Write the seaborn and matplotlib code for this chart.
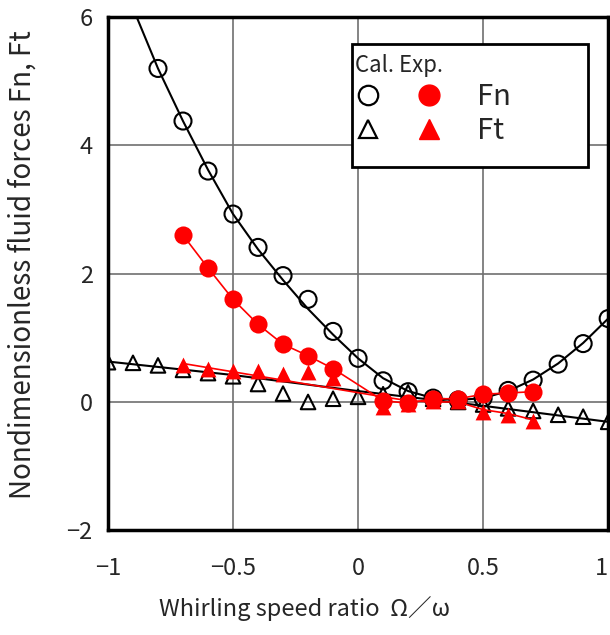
import matplotlib
matplotlib.use("Agg")
import matplotlib.pyplot as plt
import seaborn as sns
from matplotlib.lines import Line2D
from matplotlib.patches import Rectangle
from matplotlib.legend_handler import HandlerTuple

# Calculated Fn (open circles) and its curve
cal_fn_x = [-0.8, -0.7, -0.6, -0.5, -0.4, -0.3, -0.2, -0.1, 0.0, 0.1,
            0.2, 0.3, 0.4, 0.5, 0.6, 0.7, 0.8, 0.9, 1.0]
cal_fn_y = [5.2, 4.38, 3.6, 2.93, 2.41, 1.97, 1.6, 1.1, 0.68, 0.33,
            0.16, 0.06, 0.03, 0.06, 0.18, 0.34, 0.59, 0.91, 1.3]
cal_fn_line_x = [-0.885, -0.8, -0.7, -0.6, -0.5, -0.4, -0.3, -0.2, -0.1, 0.0,
                 0.1, 0.2, 0.3, 0.4, 0.5, 0.6, 0.7, 0.8, 0.9, 1.0]
cal_fn_line_y = [6.0, 5.2, 4.38, 3.62, 2.93, 2.38, 1.9, 1.45, 1.05, 0.68,
                 0.37, 0.17, 0.06, 0.03, 0.06, 0.17, 0.35, 0.6, 0.92, 1.3]

# Calculated Ft (open triangles) and its curve
cal_ft_x = [-1.0, -0.9, -0.8, -0.7, -0.6, -0.5, -0.4, -0.3, -0.2, -0.1, 0.0,
            0.1, 0.2, 0.3, 0.4, 0.5, 0.6, 0.7, 0.8, 0.9, 1.0]
cal_ft_y = [0.62, 0.61, 0.57, 0.5, 0.45, 0.4, 0.28, 0.13, 0.0, 0.05, 0.08,
            0.12, 0.15, 0.05, 0.0, -0.04, -0.1, -0.14, -0.2, -0.23, -0.31]
cal_ft_line_x = [-1.0, -0.5, 0.0, 0.5, 1.0]
cal_ft_line_y = [0.63, 0.42, 0.17, -0.06, -0.31]

# Experiment (red)
exp_x = [-0.7, -0.6, -0.5, -0.4, -0.3, -0.2, -0.1,
         0.1, 0.2, 0.3, 0.4, 0.5, 0.6, 0.7]
exp_fn_y = [2.6, 2.09, 1.6, 1.21, 0.9, 0.72, 0.52,
            0.02, -0.02, 0.05, 0.05, 0.12, 0.14, 0.16]
exp_ft_y = [0.58, 0.52, 0.48, 0.48, 0.44, 0.46, 0.37,
            -0.08, -0.03, 0.02, 0.02, -0.16, -0.2, -0.3]
exp_ft_line_x = [-0.7, 0.1, 0.2, 0.3, 0.4, 0.5, 0.6, 0.7]
exp_ft_line_y = [0.6, 0.08, 0.02, 0.0, 0.0, -0.12, -0.18, -0.28]

x_ticks = [-1, -0.5, 0, 0.5, 1]
x_labels = ["\u22121", "\u22120.5", "0", "0.5", "1"]
y_ticks = [-2, 0, 2, 4, 6]
y_labels = ["\u22122", "0", "2", "4", "6"]
legend_labels = ["Fn", "Ft"]

RED = "#ff0000"

sns.set_style("white")
plt.rcParams["font.family"] = ["Noto Sans CJK JP", "DejaVu Sans"]

fig = plt.figure(figsize=(6.1, 6.35), dpi=100)
ax = fig.add_axes([0.177, 0.165, 0.820, 0.808])

# calculated curves
sns.lineplot(x=cal_fn_line_x, y=cal_fn_line_y, ax=ax, color="black", lw=1.5, sort=False, zorder=3)
sns.lineplot(x=cal_ft_line_x, y=cal_ft_line_y, ax=ax, color="black", lw=1.5, sort=False, zorder=3)
sns.scatterplot(x=cal_fn_x, y=cal_fn_y, ax=ax, marker="o", s=150,
                facecolor="none", edgecolor="black", linewidth=1.5, zorder=4)
sns.scatterplot(x=cal_ft_x, y=cal_ft_y, ax=ax, marker="^", s=110,
                facecolor="none", edgecolor="black", linewidth=1.5, zorder=4)

# experimental
sns.lineplot(x=exp_x, y=exp_fn_y, ax=ax, color=RED, lw=1.2, sort=False, zorder=5)
sns.lineplot(x=exp_ft_line_x, y=exp_ft_line_y, ax=ax, color=RED, lw=1.2, sort=False, zorder=5)
sns.scatterplot(x=exp_x, y=exp_fn_y, ax=ax, marker="o", s=170, color=RED,
                edgecolor=RED, linewidth=0, zorder=6)
sns.scatterplot(x=exp_x, y=exp_ft_y, ax=ax, marker="^", s=130, color=RED,
                edgecolor=RED, linewidth=0, zorder=6)

ax.set_xlim(-1, 1)
ax.set_ylim(-2, 6)
ax.set_xticks(x_ticks)
ax.set_xticklabels(x_labels)
ax.set_yticks(y_ticks)
ax.set_yticklabels(y_labels)
ax.tick_params(length=0, labelsize=17)
ax.tick_params(axis="x", pad=19)
ax.tick_params(axis="y", pad=11)
ax.get_xticklabels()[-1].set_horizontalalignment("right")
ax.grid(True, color="#707070", lw=1.2)
for sp in ax.spines.values():
    sp.set_color("black")
    sp.set_linewidth(2.5)
    sp.set_zorder(10)

ax.set_xlabel("Whirling speed ratio  Ω／ω", fontsize=17)
ax.xaxis.set_label_coords(0.394, -0.128)
ax.set_ylabel("Nondimensionless fluid forces Fn, Ft", fontsize=20)
ax.yaxis.set_label_coords(-0.14, 0.518)

# legend: Cal. / Exp. columns inside a plain black box
box = Rectangle((0.488, 0.708), 0.472, 0.239, transform=ax.transAxes,
                facecolor="white", edgecolor="black", lw=2.0, zorder=19)
ax.add_patch(box)
h_fn = (Line2D([], [], ls="none", marker="o", ms=14, mfc="none", mec="black", mew=1.6),
        Line2D([], [], ls="none", marker="o", ms=15, mfc=RED, mec=RED))
h_ft = (Line2D([], [], ls="none", marker="^", ms=13, mfc="none", mec="black", mew=1.6),
        Line2D([], [], ls="none", marker="^", ms=14, mfc=RED, mec=RED))
leg = ax.legend([h_fn, h_ft], legend_labels, title="Cal. Exp.",
                handler_map={tuple: HandlerTuple(ndivide=None, pad=1.3)},
                handlelength=2.95, handletextpad=1.2, fontsize=21, title_fontsize=16,
                loc="upper left", bbox_to_anchor=(0.489, 0.933), borderaxespad=0,
                frameon=False, alignment="left", borderpad=0.1, labelspacing=0.15)
leg.set_zorder(20)

fig.savefig("out.png", dpi=100)
